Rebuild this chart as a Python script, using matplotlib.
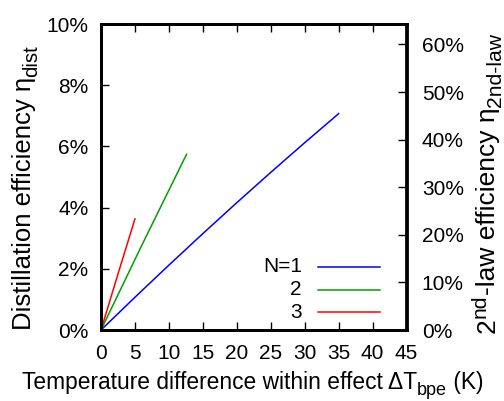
import numpy as np
import matplotlib
matplotlib.use('Agg')
import matplotlib.pyplot as plt
from matplotlib.ticker import FuncFormatter, MultipleLocator

plt.rcParams['font.family'] = ['Liberation Sans', 'DejaVu Sans']

# temperature difference (K) and distillation efficiency (%)
dt_n1 = [0, 5, 10, 15, 20, 25, 30, 35]
eff_n1 = [0, 1.07, 2.12, 3.15, 4.16, 5.15, 6.12, 7.07]
dt_n2 = [0, 6.3, 12.6]
eff_n2 = [0, 2.9, 5.74]
dt_n3 = [0, 2.5, 5.0]
eff_n3 = [0, 1.83, 3.63]

labels = ['N=1', '2', '3']
colors = ['#0000ff', '#00a000', '#ff0000']

W, H = 504, 401
fig = plt.figure(figsize=(W / 100, H / 100), dpi=100)
ax = fig.add_axes([101 / W, 71 / H, 305.5 / W, 306 / H])

series = [(dt_n1, eff_n1), (dt_n2, eff_n2), (dt_n3, eff_n3)]
for (x, y), c in zip(series, colors):
    ax.plot(x, y, color=c, lw=1.1)

pct = FuncFormatter(lambda v, p: '%d%%' % round(v))
ax.set_xlim(0, 45)
ax.set_ylim(0, 10)
ax.xaxis.set_major_locator(MultipleLocator(5))
ax.yaxis.set_major_locator(MultipleLocator(2))
ax.yaxis.set_major_formatter(pct)
ax.tick_params(axis='x', direction='in', top=True, length=6, width=1, labelsize=15, pad=10)
ax.tick_params(axis='y', direction='in', length=6, width=1, labelsize=15, pad=9)
for s in ax.spines.values():
    s.set_linewidth(2)

ax2 = ax.twinx()
ax2.set_ylim(0, 64.3)
ax2.yaxis.set_major_locator(MultipleLocator(10))
ax2.yaxis.set_major_formatter(pct)
ax2.tick_params(axis='y', direction='in', length=6, width=1, labelsize=15, pad=11)
for s in ax2.spines.values():
    s.set_linewidth(2)


def chain(pieces, x0, y0, vertical=False):
    # write a label piece by piece so sub/superscripts keep a gnuplot-like size
    prev = None
    for text, size, shift in pieces:
        if vertical:
            xy = (x0, y0) if prev is None else (x0, 1)
            coords = 'figure pixels' if prev is None else ('figure pixels', prev)
            off = (-shift, 0)
            rot = 90
        else:
            xy = (x0, y0) if prev is None else (1, y0)
            coords = 'figure pixels' if prev is None else (prev, 'figure pixels')
            off = (0, shift)
            rot = 0
        prev = ax.annotate(text, xy=xy, xycoords=coords, xytext=off,
                           textcoords='offset points', rotation=rot,
                           rotation_mode='anchor', ha='left', va='baseline',
                           fontsize=size, annotation_clip=False)


chain([('Temperature difference within effect ΔT', 16.4, 0),
       ('bpe', 13, -4), (' (K)', 16.4, 0)], 22, H - 389)
chain([('Distillation efficiency η', 18.5, 0), ('dist', 14.8, -4.5)],
      31, H - 330, vertical=True)
chain([('2', 19, 0), ('nd', 15.2, 6.5), ('-law efficiency η', 19, 0),
       ('2nd-law', 15.2, -4.5)], 495, H - 333, vertical=True)

# key drawn in data coordinates like the original
leg_y = [2.07, 1.31, 0.58]
for lab, c, ly in zip(labels, colors, leg_y):
    ax.plot([32, 41.1], [ly, ly], color=c, lw=1.1)
    ax.text(29.6, ly, lab, ha='right', va='center', fontsize=15)

fig.savefig('out.png', dpi=100)
